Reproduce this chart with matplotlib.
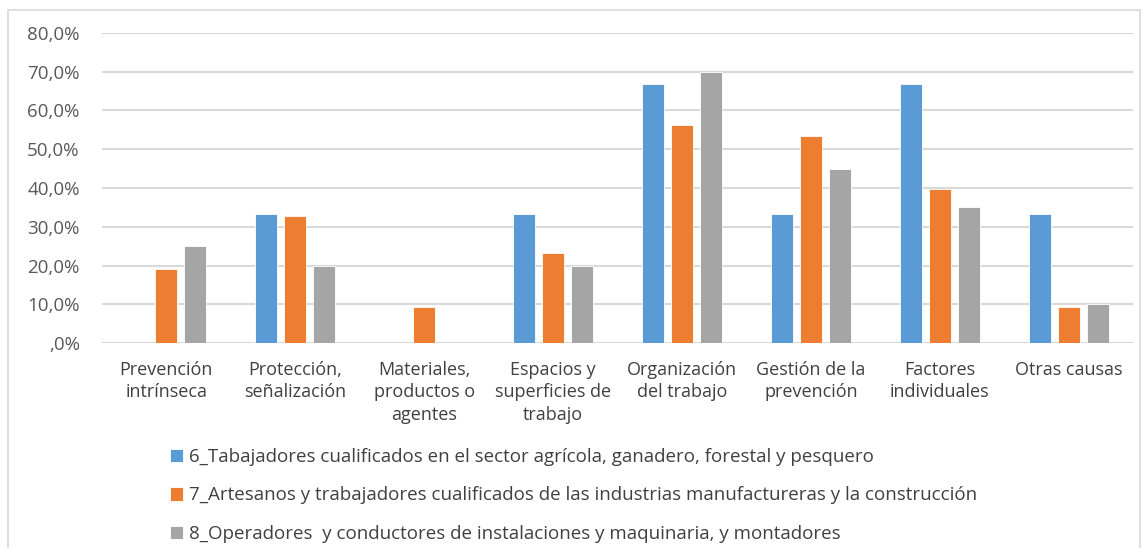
import matplotlib.pyplot as plt
import numpy as np
from matplotlib.patches import Rectangle
from matplotlib.ticker import FuncFormatter

plt.rcParams['font.family'] = ['Open Sans', 'DejaVu Sans']

categories = ["Prevención\nintrínseca", "Protección,\nseñalización", "Materiales,\nproductos o\nagentes",
              "Espacios y\nsuperficies de\ntrabajo", "Organización\ndel trabajo", "Gestión de la\nprevención",
              "Factores\nindividuales", "Otras causas"]
series_names = [
    "6_Tabajadores cualificados en el sector agrícola, ganadero, forestal y pesquero",
    "7_Artesanos y trabajadores cualificados de las industrias manufactureras y la construcción",
    "8_Operadores  y conductores de instalaciones y maquinaria, y montadores",
]
s6 = [0, 33.3, 0, 33.3, 66.7, 33.3, 66.7, 33.3]
s7 = [19.2, 32.8, 9.4, 23.3, 56.2, 53.3, 39.7, 9.4]
s8 = [25.0, 20.0, 0, 20.0, 70.0, 45.0, 35.0, 10.0]
colors = ["#5B9BD5", "#ED7D31", "#A5A5A5"]

fig = plt.figure(figsize=(11.47, 5.48), dpi=100)
ax = fig.add_axes([0.0889, 0.374, 0.899, 0.566])

x = np.arange(len(categories))
step = 0.225
width = 0.17
handles = []
for i, (vals, c, name) in enumerate(zip([s6, s7, s8], colors, series_names)):
    b = ax.bar(x + (i - 1) * step, vals, width, color=c, label=name, zorder=3,
               edgecolor="white", linewidth=0.6)
    handles.append(b)

ax.set_xlim(-0.5, len(categories) - 0.5)
ax.set_ylim(0, 80)
ax.set_yticks(np.arange(0, 81, 10))
ax.yaxis.set_major_formatter(FuncFormatter(lambda v, p: ",0%" if v == 0 else f"{v:.1f}%".replace(".", ",")))
ax.set_xticks(x)
ax.set_xticklabels(categories, fontsize=13, color="#404040", linespacing=1.3, va="top")
ax.tick_params(axis="y", labelsize=13.5, colors="#595959", length=0, pad=16)
ax.tick_params(axis="x", length=0, pad=13)
ax.grid(axis="y", color="#d9d9d9", linewidth=1.5, zorder=0)
for s in ax.spines.values():
    s.set_visible(False)

fig.patches.append(Rectangle((8 / 1147, -0.01), 1132 / 1147, 1 - 10 / 548 + 0.01,
                             transform=fig.transFigure, fill=False,
                             edgecolor="#d9d9d9", linewidth=1.2))

fig.legend(handles=handles, labels=series_names, loc="upper left",
           bbox_to_anchor=(153 / 1147, 1 - 431 / 548), frameon=False,
           fontsize=13.5, handlelength=0.7, handleheight=0.7, handletextpad=0.3,
           labelspacing=1.1, labelcolor="#404040")

plt.savefig("out.png", dpi=100)
